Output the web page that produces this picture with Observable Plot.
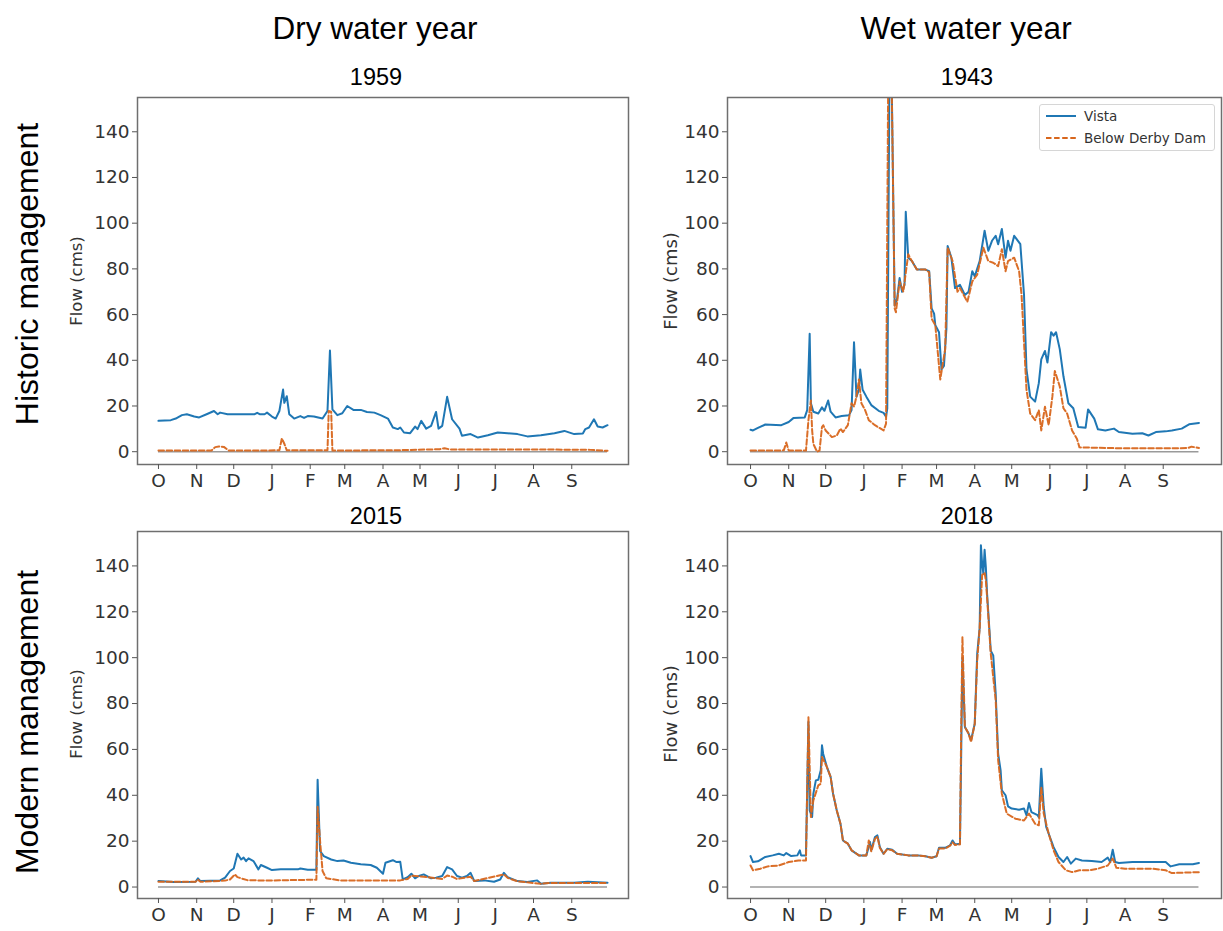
<!DOCTYPE html>
<html>
<head>
<meta charset="utf-8">
<script src="https://cdn.jsdelivr.net/npm/d3@7"></script>
<script src="https://cdn.jsdelivr.net/npm/@observablehq/plot@0.6"></script>
<style>
  body { margin: 0; background: #fff; }
  #fig { position: relative; width: 1223px; height: 931px; overflow: hidden; background: #fff; }
  .t { position: absolute; white-space: nowrap; color: #000; transform: translate(-50%, -50%); font-family: "Liberation Sans", Arial, sans-serif; z-index: 5; line-height: 1; }
  .rot { transform: translate(-50%, -50%) rotate(-90deg); }
  .ylab { font-family: "DejaVu Sans", sans-serif; color: #333; }
  .panel { position: absolute; }
  .legend { position: absolute; left: 1039px; top: 104px; width: 174px; height: 45px; border: 1px solid #d6d6d6; border-radius: 3px; background: rgba(255,255,255,0.85); z-index: 6; font-family: "DejaVu Sans", sans-serif; font-size: 13.5px; color: #333; }
  .legend .row { position: absolute; left: 6px; height: 20px; display: flex; align-items: center; }
  .legend svg { margin-right: 8px; }
</style>
</head>
<body>
<div id="fig"></div>
<script>
// ---- labels ----
const columnTitles = ["Dry water year", "Wet water year"];
const rowTitles = ["Historic management", "Modern management"];
const panelYears = ["1959", "1943", "2015", "2018"];
const seriesNames = ["Vista", "Below Derby Dam"];
const yLabel = "Flow (cms)";
const monthLabels = ["O","N","D","J","F","M","A","M","J","J","A","S"];
const monthStartDays = [0,31,61,92,123,151,182,212,243,273,304,335];
const yTicks = [0,20,40,60,80,100,120,140];

// ---- data: [day of water year, flow (cms)] ----
const vista1959 = [[0,13.5],[10,13.8],[14,14.5],[19,16],[23,16.4],[29,15.4],[33,15],[39,16.4],[45,17.8],[48,16.4],[50,17.1],[56,16.4],[67,16.4],[78,16.4],[80,17],[82,16.4],[86,16.4],[88,17.1],[92,15.4],[95,14.5],[98,17.8],[101,27.2],[102,21.4],[104,24.3],[106,16.4],[110,14.5],[115,15.6],[118,14.8],[121,15.6],[126,15.4],[133,14.5],[137,17.8],[139,44.3],[141,18.5],[145,16],[149,16.8],[153,20],[158,18.3],[164,18.3],[169,17.4],[175,17.1],[180,16],[186,14.5],[190,10.6],[194,9.9],[196,10.6],[199,8.4],[204,8.1],[208,11],[210,9.9],[213,13.5],[217,10.1],[221,11.3],[225,17.4],[227,10.1],[230,11.3],[234,24],[238,14.2],[244,10.1],[246,7],[253,7.7],[259,6.2],[267,7.2],[275,8.4],[283,8.1],[291,7.7],[299,6.7],[310,7.2],[321,8.1],[329,9.1],[337,7.7],[344,8],[346,9.9],[349,10.6],[353,14.2],[356,11],[360,10.6],[364,11.6]];
const derby1959 = [[0,0.5],[43,0.5],[46,2.0],[49,2.3],[53,2.1],[57,0.5],[98,0.6],[100,5.8],[102,3.5],[104,0.6],[137,0.6],[138,17.8],[140,17.5],[141,0.5],[200,0.7],[228,1.1],[232,1.5],[236,1.0],[300,1.0],[350,0.8],[364,0.4]];

const vista1943 = [[0,9.6],[2,9.3],[6,10.4],[12,11.9],[25,11.6],[31,13],[35,14.8],[44,15],[46,18.2],[48,51.6],[49,21.2],[51,17.5],[55,16.7],[58,19.4],[60,17.9],[63,22.4],[65,17.5],[69,15],[74,15.6],[80,16],[82,18.2],[84,47.9],[86,24.1],[88,27.1],[89,36],[91,27.1],[94,24.1],[98,20.4],[104,17.9],[108,17],[110,15.3],[111,19],[113,185],[114,185],[117,64],[119,67],[121,76],[123,70],[125,73],[126,105],[128,85],[131,83.4],[135,79.7],[142,79.7],[145,79],[147,62.7],[149,60.4],[150,55.3],[153,52.3],[155,36],[157,37.5],[159,53.8],[160,90],[163,85],[166,71.6],[170,73],[174,68.6],[177,70],[180,79],[182,76.7],[186,83.4],[190,96.7],[193,87.9],[196,92.3],[199,94.5],[201,90.8],[204,97.5],[207,84.9],[209,92.3],[211,87.9],[214,94.5],[216,93],[219,90.8],[222,68.6],[224,36],[227,24.1],[231,21.9],[234,30],[236,40.4],[239,44.1],[241,39],[244,52.3],[246,50.8],[248,52.3],[251,44.9],[254,33],[258,21.2],[262,19],[266,10.8],[272,10.5],[274,18.5],[279,14.5],[282,9.8],[288,9.3],[295,10.1],[299,8.6],[310,7.9],[318,8.1],[323,7.1],[329,8.6],[337,8.9],[342,9.3],[350,10.1],[356,12],[364,12.6]];
const derby1943 = [[0,0.5],[20,0.5],[27,0.6],[29,4],[31,0.5],[45,0.5],[47,13.8],[49,22.4],[50,9.3],[51,3.4],[54,0],[56,0.5],[58,10.8],[59,11.6],[61,9.3],[66,6.4],[70,7.1],[73,10.1],[75,8.6],[79,11.6],[82,21.2],[84,19.7],[86,24.1],[88,31.6],[90,21.2],[93,18.2],[96,13.8],[101,11.6],[108,9.3],[110,12.3],[112,185],[114,185],[117,62.7],[118,61],[121,74.5],[124,70],[128,86.4],[131,83.4],[135,79.7],[142,79.7],[145,78.5],[147,58.2],[150,55.3],[154,31.6],[158,44.9],[160,89.3],[164,83.4],[168,70],[170,71.6],[176,65.6],[180,74.5],[184,77.5],[189,89.3],[193,83.4],[197,82.7],[201,81.2],[204,88.6],[207,79],[209,83.4],[214,84.9],[218,79],[220,68.6],[224,27.1],[227,16.7],[231,13.8],[234,18.2],[236,9.3],[239,19.7],[242,11.6],[245,24.1],[247,35.3],[251,28.6],[254,19],[257,16.7],[261,9.3],[265,5.6],[267,1.9],[300,1.5],[340,1.5],[355,1.6],[358,2.2],[364,1.6]];

const vista2015 = [[0,2.6],[12,2.2],[30,2.3],[32,3.8],[34,2.6],[50,2.9],[54,4.1],[58,7],[61,8.1],[64,14.5],[67,12],[69,12.8],[71,11.3],[73,12.5],[77,11.3],[81,7.7],[83,9.6],[88,8.4],[92,7.4],[99,7.7],[107,7.7],[113,7.7],[115,8.1],[121,7.5],[128,7.5],[129,46.8],[131,15.7],[134,13.5],[140,12],[145,11.3],[150,11.6],[156,10.6],[164,9.9],[172,9.6],[177,8.4],[182,5.8],[184,10.6],[190,11.7],[193,10.9],[196,11],[198,3.3],[202,4.3],[205,5.8],[208,3.8],[211,4.8],[215,5.5],[221,3.8],[225,4.1],[230,4.8],[234,8.7],[238,7.7],[242,4.8],[246,4.1],[250,4.8],[253,6.2],[256,2.6],[264,2.9],[272,2.3],[277,3.3],[280,6.2],[283,4.3],[291,2.6],[299,2.2],[307,2.9],[310,1.4],[318,1.9],[337,1.9],[348,2.3],[364,1.9]];
const derby2015 = [[0,2.3],[30,2.3],[32,3.2],[34,2.3],[54,2.8],[58,3.3],[62,5.5],[64,4.3],[67,3.8],[72,3.0],[80,2.9],[94,2.9],[128,3.2],[129,35],[131,20],[133,7],[136,3.8],[147,2.9],[196,2.9],[202,3.5],[205,5],[215,4.5],[230,3.5],[234,5],[238,4.5],[242,3.5],[253,4.5],[256,2.6],[280,5.5],[283,4],[291,2.5],[310,1.4],[318,1.8],[364,1.8]];

const vista2018 = [[0,13.5],[2,10.9],[6,11.2],[12,13.1],[18,13.8],[23,14.5],[27,13.8],[29,14.8],[33,13.5],[38,13.8],[40,16],[41,13.8],[45,13.8],[47,72],[48,33.4],[50,30.5],[51,40.7],[53,46.5],[55,46.8],[57,50.9],[58,61.8],[59,58],[62,52.3],[65,48],[67,40.7],[70,33.4],[73,27.6],[75,20.3],[79,18.9],[82,16],[88,13.8],[94,13.8],[97,19.6],[98,16],[101,21.8],[103,22.5],[105,17.4],[108,14.5],[111,16.7],[115,16.3],[119,14.5],[128,13.8],[136,13.8],[142,13.4],[147,12.8],[151,13.4],[153,17.1],[158,17.1],[162,18.2],[164,20.3],[166,18.6],[170,18.9],[171,58],[172,100],[174,69.8],[177,66.9],[179,64],[182,71.2],[184,101.7],[186,113],[187,149],[188,141],[189,136.6],[190,147],[191,139.5],[192,128],[195,103],[197,101],[199,84.3],[201,58],[203,50.9],[204,42.2],[207,40],[209,35.2],[212,34.2],[218,33.7],[222,34.2],[224,31.3],[226,36.6],[228,32.7],[233,31.3],[234,30.5],[236,51.6],[238,34.9],[240,26.2],[243,21.8],[246,17.4],[250,13.1],[254,10.9],[257,13.1],[260,10.2],[264,12.4],[269,11.6],[277,11.3],[285,10.9],[290,12.8],[292,10.9],[294,16.3],[296,10.9],[299,10.5],[310,10.9],[323,10.9],[337,10.9],[341,9],[348,9.9],[359,9.9],[364,10.5]];
const derby2018 = [[0,9.4],[2,7.3],[8,8],[14,9],[23,9.4],[31,10.9],[39,11.6],[45,11.6],[47,74],[49,30.5],[51,37.8],[55,44.3],[57,45],[58,56.7],[62,52.3],[65,48],[67,40.7],[70,33.4],[73,27.6],[75,20.3],[79,18.9],[82,16],[88,13.8],[94,13.8],[96,20.3],[98,15.5],[101,21],[103,22],[105,17],[108,14.5],[111,16.5],[115,16],[119,14.5],[128,13.8],[136,13.8],[142,13.4],[147,12.8],[151,13.4],[153,16.8],[158,16.8],[162,18],[164,19.5],[166,18.3],[170,18.6],[171,70],[172,109],[174,69.8],[177,66.9],[179,63.2],[182,71.2],[184,98.8],[186,113],[188,136],[190,137],[191,133.7],[192,126.5],[195,101.7],[199,81.4],[201,55.2],[204,40.7],[208,32],[215,29.8],[222,29],[226,32],[231,27.6],[234,26.9],[236,43.6],[238,32],[242,23.3],[246,16],[250,10.9],[256,7.3],[261,6.5],[267,7.3],[275,7.3],[282,8],[290,9.4],[294,12.4],[297,8.4],[304,8],[326,8],[337,7.3],[342,6.1],[364,6.5]];

const BLUE = "#1f77b4";
const ORANGE = "#d8661c";
const DASH = "5.5,2.6";

const fig = document.getElementById("fig");

function addText(txt, x, y, size, cls = "") {
  const d = document.createElement("div");
  d.className = "t " + cls;
  d.textContent = txt;
  d.style.left = x + "px";
  d.style.top = y + "px";
  d.style.fontSize = size + "px";
  fig.appendChild(d);
  return d;
}

function panel(vista, derby, opts) {
  const toObj = a => a.map(([day, flow]) => ({day, flow}));
  const v = toObj(vista), b = toObj(derby);
  const first = v[0].day, last = v[v.length - 1].day;
  const chart = Plot.plot({
    width: opts.width,
    height: opts.height,
    marginLeft: opts.ml, marginRight: opts.mr, marginTop: opts.mt, marginBottom: opts.mb,
    style: {fontFamily: "DejaVu Sans, sans-serif", fontSize: "18.5px", color: "#333", background: "transparent", overflow: "visible"},
    x: {domain: opts.xDomain, label: null},
    y: {domain: opts.yDomain, label: null},
    marks: [
      Plot.ruleY([0], {x1: first, x2: last, stroke: "#9a9a9a", strokeWidth: 1.6}),
      Plot.line(v, {x: "day", y: "flow", stroke: BLUE, strokeWidth: 2, clip: true}),
      Plot.line(b, {x: "day", y: "flow", stroke: ORANGE, strokeWidth: 2, strokeDasharray: DASH, strokeOpacity: 0.95, clip: true}),
      Plot.frame({stroke: "#6f6f6f", strokeWidth: 1.5}),
      Plot.axisX({ticks: monthStartDays, tickFormat: d => monthLabels[monthStartDays.indexOf(d)], tickSize: 5, tickPadding: 4, stroke: "#555", fill: "#333", fontSize: 18.5, label: null}),
      Plot.axisY({ticks: yTicks, tickSize: 5, tickPadding: 3, stroke: "#555", fill: "#333", fontSize: 18.5, label: null})
    ]
  });
  chart.classList.add("panel");
  chart.style.left = opts.left + "px";
  chart.style.top = opts.top + "px";
  fig.appendChild(chart);
}

const leftX = {left: 80, width: 560, ml: 57, mr: 12, xDomain: [-17, 381]};
const rightX = {left: 660, width: 563, ml: 67, mr: 2, xDomain: [-18.7, 382.3]};
const topY = {top: 90, height: 420, mt: 7, mb: 46, yDomain: [-5.6, 155]};
const botY = {top: 524, height: 420, mt: 7, mb: 46, yDomain: [-5, 155]};

panel(vista1959, derby1959, {...leftX, ...topY});
panel(vista1943, derby1943, {...rightX, ...topY});
panel(vista2015, derby2015, {...leftX, ...botY});
panel(vista2018, derby2018, {...rightX, ...botY});

// titles
addText(columnTitles[0], 375, 29, 31.5);
addText(columnTitles[1], 966, 29, 31.5);
addText(panelYears[0], 376, 78, 23.5);
addText(panelYears[1], 967, 78, 23.5);
addText(panelYears[2], 376, 517, 23.5);
addText(panelYears[3], 967, 517, 23.5);
addText(rowTitles[0], 27, 274, 32, "rot");
addText(rowTitles[1], 27, 722, 32, "rot");
addText(yLabel, 77, 281, 16.5, "rot ylab");
addText(yLabel, 671, 281, 18, "rot ylab");
addText(yLabel, 77, 714, 16.5, "rot ylab");
addText(yLabel, 671, 714, 18, "rot ylab");

// legend
const leg = document.createElement("div");
leg.className = "legend";
const rows = [
  {name: seriesNames[0], color: BLUE, dash: null, top: 1},
  {name: seriesNames[1], color: ORANGE, dash: DASH, top: 23}
];
for (const r of rows) {
  const row = document.createElement("div");
  row.className = "row";
  row.style.top = r.top + "px";
  const s = d3.create("svg").attr("width", 30).attr("height", 10);
  s.append("line").attr("x1", 0).attr("x2", 30).attr("y1", 5).attr("y2", 5)
    .attr("stroke", r.color).attr("stroke-width", 2).attr("stroke-dasharray", r.dash);
  row.appendChild(s.node());
  const sp = document.createElement("span");
  sp.textContent = r.name;
  row.appendChild(sp);
  leg.appendChild(row);
}
fig.appendChild(leg);
</script>
</body>
</html>
